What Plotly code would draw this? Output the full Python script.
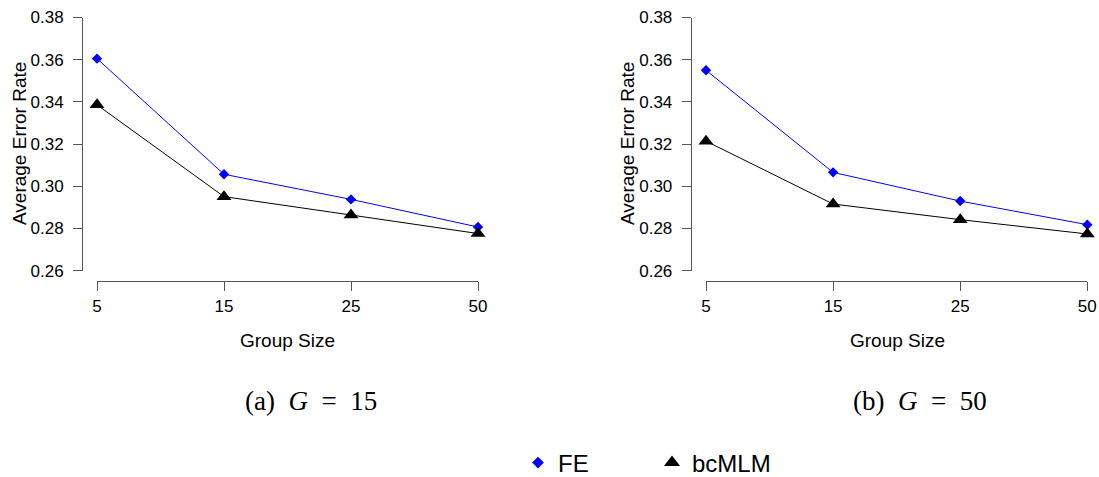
import plotly.graph_objects as go

W, H = 1099, 477

group_sizes = ["5", "15", "25", "50"]
fe_g15 = [0.3605, 0.3057, 0.2938, 0.2807]
bcmlm_g15 = [0.3386, 0.2951, 0.2864, 0.2776]
fe_g50 = [0.3550, 0.3066, 0.2930, 0.2818]
bcmlm_g50 = [0.3214, 0.2916, 0.2842, 0.2774]
y_ticks = [0.26, 0.28, 0.30, 0.32, 0.34, 0.36, 0.38]
captions = ["(a)&nbsp;&nbsp;<i>G</i>&nbsp;&nbsp;=&nbsp;&nbsp;15", "(b)&nbsp;&nbsp;<i>G</i>&nbsp;&nbsp;=&nbsp;&nbsp;50"]

BLUE = "#0000FF"
AX = "#555555"
FONT = "Liberation Sans, Arial, sans-serif"

fig = go.Figure()
xs = list(range(len(group_sizes)))

panels = [
    dict(fe=fe_g15, bc=bcmlm_g15, xa="x", ya="y"),
    dict(fe=fe_g50, bc=bcmlm_g50, xa="x2", ya="y2"),
]
for p in panels:
    fig.add_trace(go.Scatter(x=xs, y=p["fe"], xaxis=p["xa"], yaxis=p["ya"],
                             mode="lines+markers", showlegend=False, cliponaxis=False,
                             line=dict(color=BLUE, width=1),
                             marker=dict(symbol="diamond", size=8, color=BLUE)))
    fig.add_trace(go.Scatter(x=xs, y=p["bc"], xaxis=p["xa"], yaxis=p["ya"],
                             mode="lines+markers", showlegend=False, cliponaxis=False,
                             line=dict(color="black", width=1),
                             marker=dict(symbol="triangle-up", size=13, color="black")))

# legend entries
fig.add_trace(go.Scatter(x=[None], y=[None], mode="markers", name="FE",
                         marker=dict(symbol="diamond", size=9, color=BLUE)))
fig.add_trace(go.Scatter(x=[None], y=[None], mode="markers", name="bcMLM",
                         marker=dict(symbol="triangle-up", size=14, color="black")))

def px_x(v):
    return v / W

def px_y(v):
    return 1 - v / H

common_x = dict(range=[0, 3], tickvals=xs, ticktext=group_sizes, showline=True,
                linecolor=AX, linewidth=1, ticks="outside", ticklen=9, tickcolor=AX,
                tickwidth=1, showgrid=False, zeroline=False, anchor="free",
                position=px_y(281), tickfont=dict(size=17, color="black", family=FONT),
                ticklabelstandoff=1, automargin=False)
common_y = dict(range=[0.26, 0.38], tickvals=y_ticks, tickformat=".2f", showline=True,
                linecolor=AX, linewidth=1, ticks="outside", ticklen=9, tickcolor=AX,
                tickwidth=1, showgrid=False, zeroline=False, anchor="free",
                domain=[px_y(270.7), px_y(17.5)],
                tickfont=dict(size=17, color="black", family=FONT),
                ticklabelstandoff=6, automargin=False)

fig.update_layout(
    width=W, height=H, margin=dict(l=0, r=0, t=0, b=0, autoexpand=False),
    paper_bgcolor="white", plot_bgcolor="white",
    font=dict(family=FONT, color="black"),
    xaxis=dict(common_x, domain=[px_x(97), px_x(478)]),
    yaxis=dict(common_y, position=px_x(82)),
    xaxis2=dict(common_x, domain=[px_x(706), px_x(1087.3)]),
    yaxis2=dict(common_y, position=px_x(690.7)),
    legend=dict(orientation="h", x=px_x(518), xanchor="left", y=px_y(463), yanchor="middle",
                font=dict(size=24, family=FONT), entrywidth=89, entrywidthmode="pixels",
                bgcolor="rgba(0,0,0,0)", itemsizing="trace"),
    showlegend=True,
)

annos = []
for cx, tx in [(20, "Average Error Rate"), (628, "Average Error Rate")]:
    annos.append(dict(text=tx, x=px_x(cx), y=px_y(144), xref="paper", yref="paper",
                      textangle=-90, showarrow=False, xanchor="center", yanchor="middle",
                      font=dict(size=19, family=FONT)))
for cx in [287, 897]:
    annos.append(dict(text="Group Size", x=px_x(cx), y=px_y(340), xref="paper", yref="paper",
                      showarrow=False, xanchor="center", yanchor="middle",
                      font=dict(size=19, family=FONT)))
for cx, tx in [(311, captions[0]), (920, captions[1])]:
    annos.append(dict(text=tx, x=px_x(cx), y=px_y(401), xref="paper", yref="paper",
                      showarrow=False, xanchor="center", yanchor="middle",
                      font=dict(size=27, family="Liberation Serif, Times New Roman, serif")))
fig.update_layout(annotations=annos)

fig.write_html("out.html", config={"displayModeBar": False},
               post_script="document.body.style.margin='0px';document.body.style.overflow='hidden';")
